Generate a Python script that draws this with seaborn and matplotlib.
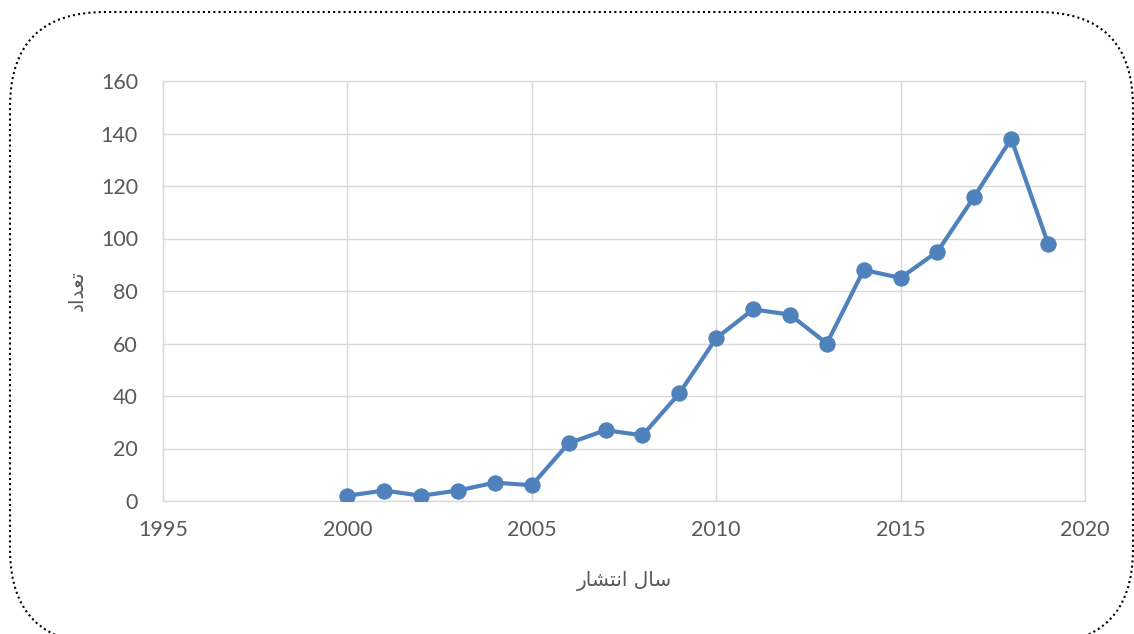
import matplotlib
matplotlib.use("Agg")
import matplotlib.pyplot as plt
import seaborn as sns
import pandas as pd
from matplotlib.patches import FancyBboxPatch

# data
years = [2000, 2001, 2002, 2003, 2004, 2005, 2006, 2007, 2008, 2009,
         2010, 2011, 2012, 2013, 2014, 2015, 2016, 2017, 2018, 2019]
counts = [2, 4, 2, 4, 7, 6, 22, 27, 25, 41,
          62, 73, 71, 60, 88, 85, 95, 116, 138, 98]
x_ticks = [1995, 2000, 2005, 2010, 2015, 2020]
y_ticks = [0, 20, 40, 60, 80, 100, 120, 140, 160]

# Persian labels, pre-shaped into presentation forms in visual order
x_label = "\uFEAD\uFE8E\uFEB8\uFE98\uFEE7\uFE8D \uFEDD\uFE8E\uFEB3"  # سال انتشار
y_label = "\uFEA9\uFE8D\uFEAA\uFECC\uFE97"  # تعداد

df = pd.DataFrame({"year": years, "count": counts})

sns.set_style("white")
plt.rcParams["font.family"] = ["Lato", "DejaVu Sans"]

W, H = 1134, 634
fig = plt.figure(figsize=(W / 100, H / 100), dpi=100)
ax = fig.add_axes([163 / W, 1 - 501 / H, (1085 - 163) / W, (501 - 81) / H])

line_color = "#4F81BD"
sns.lineplot(data=df, x="year", y="count", ax=ax, color=line_color,
             linewidth=3, marker="o", markersize=11,
             markeredgecolor=line_color, zorder=3)

ax.set_xlim(1995, 2020)
ax.set_ylim(0, 160)
ax.set_xticks(x_ticks)
ax.set_yticks(y_ticks)
ax.grid(True, color="#D9D9D9", linewidth=1)
for s in ax.spines.values():
    s.set_color("#D9D9D9")
    s.set_linewidth(1)
ax.tick_params(axis="both", length=0, labelsize=15.5, labelcolor="#595959")
ax.tick_params(axis="x", pad=14)
ax.tick_params(axis="y", pad=18)

ax.set_xlabel(x_label, family="DejaVu Sans", fontsize=14.5, color="#595959", labelpad=22)
ax.set_ylabel(y_label, family="DejaVu Sans", fontsize=14.5, color="#595959", labelpad=10)

# dotted rounded frame around the chart
frame = FancyBboxPatch((10, -10), 1123, 634 + 10 - 12,
                       boxstyle="round,pad=0,rounding_size=95",
                       transform=None, fill=False, edgecolor="black",
                       linestyle=(0, (1, 1.5)), linewidth=1.5, clip_on=False)
fig.patches.append(frame)

fig.savefig("out.png", dpi=100)
